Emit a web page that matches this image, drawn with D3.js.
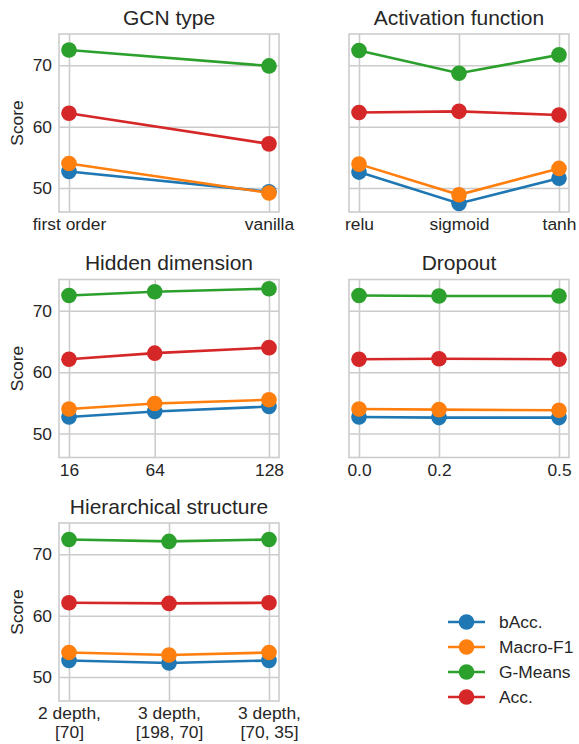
<!DOCTYPE html>
<html>
<head>
<meta charset="utf-8">
<script src="https://cdn.jsdelivr.net/npm/d3@7"></script>
<style>
  body { margin: 0; background: #fff; }
  svg { font-family: "Liberation Sans", Arial, sans-serif; }
</style>
</head>
<body>
<div id="chart"></div>
<script>
const metrics = ["bAcc.", "Macro-F1", "G-Means", "Acc."];
const colours = ["#1f77b4", "#ff7f0e", "#2ca02c", "#d62728"];
const yTicks = [50, 60, 70];

// one row per metric: bAcc., Macro-F1, G-Means, Acc.
const gcnTypes = ["first order", "vanilla"];
const gcnScores = [[52.7, 49.4], [54.0, 49.2], [72.5, 69.9], [62.2, 57.2]];

const activations = ["relu", "sigmoid", "tanh"];
const activationScores = [[52.6, 47.5, 51.6], [53.9, 48.9, 53.2], [72.4, 68.7, 71.7], [62.3, 62.5, 61.9]];

const hiddenDims = [16, 64, 128];
const hiddenScores = [[52.7, 53.6, 54.4], [54.0, 54.9, 55.5], [72.5, 73.1, 73.6], [62.1, 63.1, 64.0]];

const dropouts = [0.0, 0.2, 0.5];
const dropoutLabels = ["0.0", "0.2", "0.5"];
const dropoutScores = [[52.7, 52.6, 52.6], [54.0, 53.9, 53.8], [72.5, 72.4, 72.4], [62.1, 62.2, 62.1]];

const structures = [["2 depth,", "[70]"], ["3 depth,", "[198, 70]"], ["3 depth,", "[70, 35]"]];
const structureScores = [[52.7, 52.3, 52.7], [54.0, 53.6, 54.0], [72.4, 72.1, 72.4], [62.1, 62.0, 62.1]];

const panels = [
  {title: "GCN type", col: 0, row: 0, kind: "cat", xs: gcnTypes, scores: gcnScores},
  {title: "Activation function", col: 1, row: 0, kind: "cat", xs: activations, scores: activationScores},
  {title: "Hidden dimension", col: 0, row: 1, kind: "num", xs: hiddenDims, labels: hiddenDims.map(String), scores: hiddenScores},
  {title: "Dropout", col: 1, row: 1, kind: "num", xs: dropouts, labels: dropoutLabels, scores: dropoutScores},
  {title: "Hierarchical structure", col: 0, row: 2, kind: "cat2", xs: structures, scores: structureScores}
];

const W = 579, H = 744;
const colX = [59, 349], boxW = 220;
const rowY = [34, 279.5, 523], boxH = 178;
const textColour = "#262626", gridColour = "#cccccc";
const tickFont = 17.4, titleFont = 21;

const svg = d3.select("#chart").append("svg").attr("width", W).attr("height", H);

const y = d3.scaleLinear().domain([46.1, 75.1]);

panels.forEach(p => {
  const left = colX[p.col], top = rowY[p.row];
  const g = svg.append("g").attr("transform", `translate(${left},${top})`);
  const yS = y.copy().range([boxH, 0]);
  const n = p.xs.length;

  let x, xVals;
  if (p.kind === "num") {
    const span = d3.max(p.xs) - d3.min(p.xs);
    x = d3.scaleLinear().domain([d3.min(p.xs) - span * 0.05, d3.max(p.xs) + span * 0.05]).range([0, boxW]);
    xVals = p.xs;
  } else {
    const keys = p.xs.map((d, i) => String(i));
    x = d3.scalePoint().domain(keys).range([0, boxW]).padding(0.05 * (n - 1));
    xVals = keys;
  }

  // y grid + labels
  const yAxis = g.append("g")
    .call(d3.axisLeft(yS).tickValues(yTicks).tickSize(-boxW).tickPadding(7)
      .tickFormat(p.col === 0 ? d3.format("d") : () => ""));
  // x grid + labels
  const xAxis = g.append("g").attr("transform", `translate(0,${boxH})`)
    .call(d3.axisBottom(x).tickValues(xVals).tickSize(-boxH).tickPadding(6)
      .tickFormat((d, i) => p.kind === "num" ? p.labels[i] : (p.kind === "cat" ? p.xs[i] : "")));

  [yAxis, xAxis].forEach(a => {
    a.select(".domain").remove();
    a.selectAll(".tick line").attr("stroke", gridColour).attr("stroke-width", 1.6);
    a.selectAll(".tick text").attr("fill", textColour).style("font-size", tickFont + "px")
      .style("font-family", "'Liberation Sans', Arial, sans-serif");
  });

  if (p.kind === "cat2") {
    xAxis.selectAll(".tick text").each(function(d, i) {
      const t = d3.select(this);
      t.text(null);
      p.xs[i].forEach((line, j) => {
        t.append("tspan").attr("x", 0).attr("dy", j === 0 ? "0.71em" : "1.1em").text(line);
      });
    }).attr("dy", null);
  }

  // frame
  g.append("rect").attr("width", boxW).attr("height", boxH)
    .attr("fill", "none").attr("stroke", gridColour).attr("stroke-width", 1.6);

  const line = d3.line().x((d, i) => x(xVals[i])).y(d => yS(d));
  p.scores.forEach((vals, m) => {
    g.append("path").datum(vals).attr("d", line)
      .attr("fill", "none").attr("stroke", colours[m]).attr("stroke-width", 2.6);
    g.selectAll(null).data(vals).enter().append("circle")
      .attr("cx", (d, i) => x(xVals[i])).attr("cy", d => yS(d))
      .attr("r", 7.8).attr("fill", colours[m]);
  });

  g.append("text").attr("x", boxW / 2).attr("y", -9.5).attr("text-anchor", "middle")
    .attr("fill", textColour).style("font-size", titleFont + "px").text(p.title);

  if (p.col === 0) {
    g.append("text").attr("transform", `translate(${17 - left},${boxH / 2}) rotate(-90)`)
      .attr("text-anchor", "middle").attr("dy", "0.35em")
      .attr("fill", textColour).style("font-size", tickFont + "px").text("Score");
  }
});

// legend
const legend = svg.append("g").attr("transform", "translate(448,622)");
metrics.forEach((name, i) => {
  const row = legend.append("g").attr("transform", `translate(0,${i * 25})`);
  row.append("line").attr("x1", 0).attr("x2", 37).attr("stroke", colours[i]).attr("stroke-width", 2.6);
  row.append("circle").attr("cx", 18.5).attr("r", 7.8).attr("fill", colours[i]);
  row.append("text").attr("x", 51).attr("dy", "0.35em").attr("fill", textColour)
    .style("font-size", tickFont + "px").text(name);
});
</script>
</body>
</html>
